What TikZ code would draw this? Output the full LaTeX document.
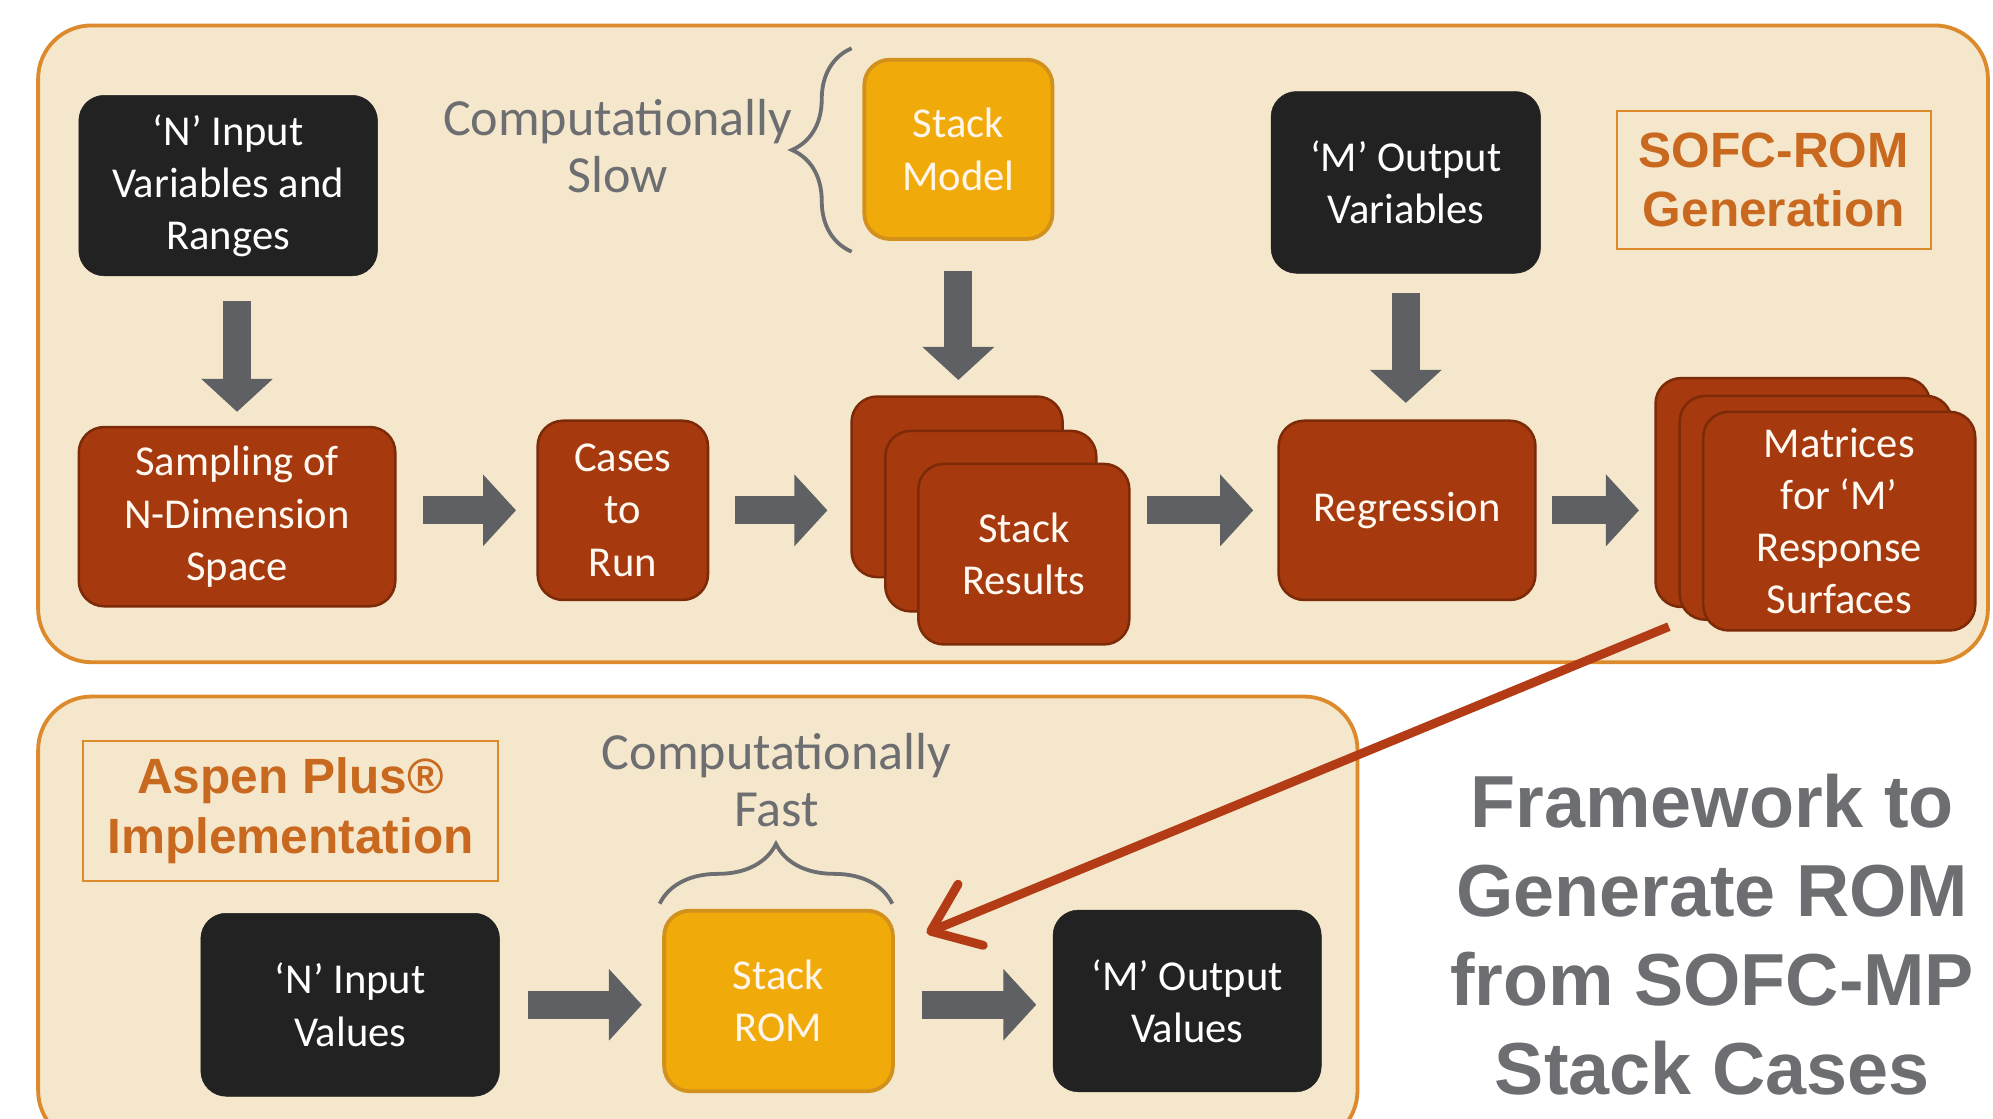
\documentclass[tikz,border=0pt]{standalone}
\usepackage{fontspec}
\setmainfont{Carlito}
\newfontfamily\headfont{Liberation Sans}
\usetikzlibrary{arrows.meta,decorations.pathreplacing}
\definecolor{panelfill}{HTML}{F4E7CB}
\definecolor{panelline}{HTML}{DC8A2C}
\definecolor{boxblack}{HTML}{222222}
\definecolor{rust}{HTML}{A63A0E}
\definecolor{rustdark}{HTML}{7C2A08}
\definecolor{gold}{HTML}{F0AA0A}
\definecolor{golddark}{HTML}{D2901C}
\definecolor{arrowgray}{HTML}{5E6064}
\definecolor{textgray}{HTML}{6D6E71}
\definecolor{orangetext}{HTML}{C9691F}
\definecolor{redarrow}{HTML}{B33C16}
\tikzset{
  panel/.style={fill=panelfill, draw=panelline, line width=3pt, rounded corners=42pt},
  basebox/.style={rectangle, rounded corners=20pt, inner sep=0pt, align=center,
    font=\fontsize{33.5pt}{41pt}\selectfont},
  blackbox/.style={basebox, fill=boxblack, draw=boxblack, text=white},
  rustbox/.style={basebox, fill=rust, draw=rustdark, line width=2pt, text=white!95!orange},
  goldbox/.style={basebox, fill=gold, draw=golddark, line width=3pt, text=white!92!orange},
  titlebox/.style={rectangle, draw=panelline, line width=1.5pt, inner sep=0pt, align=center,
    text=orangetext, font=\headfont\bfseries\fontsize{39pt}{47pt}\selectfont},
  graytext/.style={align=center, text=textgray, font=\fontsize{41pt}{45pt}\selectfont},
  blockarrow/.style={draw=arrowgray, line width=22pt, -{Triangle[length=26pt,width=55pt]}},
  bracestyle/.style={draw=textgray, line width=3pt, decorate, decoration={brace, amplitude=47pt}},
  bigarrow/.style={draw=redarrow, line width=7pt, -{Straight Barb[length=34pt,width=52pt,round]}}
}
\begin{document}
\begin{tikzpicture}[x=1pt,y=-1pt]
\useasboundingbox (0,0) rectangle (1568,880);
\clip (0,0) rectangle (1568,880);
\fill[white] (0,0) rectangle (1568,880);

% panels
\draw[panel] (30,20) rectangle (1564,521);
\draw[panel] (30,548) rectangle (1068,900);

% top panel nodes
\node[blackbox, minimum width=235pt, minimum height=142pt] (nin) at (179.5,146)
  {‘N’ Input\\Variables and\\Ranges};
\node[graytext] (slow) at (486,115) {Computationally\\Slow};
\node[goldbox, minimum width=148pt, minimum height=141pt] (model) at (754,117.5)
  {Stack\\Model};
\node[blackbox, minimum width=212pt, minimum height=143pt] (mout) at (1106,143.5)
  {‘M’ Output\\Variables};
\node[titlebox, minimum width=247pt, minimum height=109pt] (sofc) at (1395.5,141.5)
  {SOFC-ROM\\Generation};

\node[rustbox, minimum width=249pt, minimum height=141pt] (samp) at (186.5,406.5)
  {Sampling of\\N-Dimension\\Space};
\node[rustbox, minimum width=134pt, minimum height=141pt] (cases) at (490,401.5)
  {Cases\\to\\Run};
\node[rustbox, minimum width=166pt, minimum height=142pt] (sr1) at (753,383) {};
\node[rustbox, minimum width=166pt, minimum height=142pt] (sr2) at (779.5,410) {};
\node[rustbox, minimum width=166pt, minimum height=142pt] (sr3) at (805.5,436)
  {Stack\\Results};
\node[rustbox, minimum width=202pt, minimum height=141pt] (reg) at (1107,401.5)
  {Regression};
\node[rustbox, minimum width=216pt, minimum height=180pt] (mat1) at (1410.5,387.5) {};
\node[rustbox, minimum width=214pt, minimum height=176pt] (mat2) at (1428.5,399.5) {};
\node[rustbox, minimum width=214pt, minimum height=172pt] (mat3) at (1447,410)
  {Matrices\\for ‘M’\\Response\\Surfaces};

% top arrows
\draw[blockarrow, shorten <=20pt, shorten >=11pt] (samp.north |- nin.south) -- (samp.north);
\draw[blockarrow, shorten <=24pt, shorten >=12pt] (model.south) -- (model.south |- sr1.north);
\draw[blockarrow, shorten <=15pt, shorten >=13pt] (mout.south) -- (mout.south |- reg.north);
\draw[blockarrow, shorten <=21pt, shorten >=16pt] (samp.east |- cases.west) -- (cases.west);
\draw[blockarrow, shorten <=20pt, shorten >=18pt] (cases.east) -- (cases.east -| sr1.west);
\draw[blockarrow, shorten <=13pt, shorten >=19pt] (sr3.east |- reg.west) -- (reg.west);
\draw[blockarrow, shorten <=12pt, shorten >=12pt] (reg.east) -- (reg.east -| mat1.west);

% braces
\draw[bracestyle] (670,198) -- (670,38);
\draw[bracestyle] (519,711) -- (702,711);

% bottom panel nodes
\node[titlebox, minimum width=327pt, minimum height=110pt] (aspen) at (228.5,638)
  {Aspen Plus®\\Implementation};
\node[graytext] (fast) at (611,614) {Computationally\\Fast};
\node[blackbox, minimum width=235pt, minimum height=144pt] (nv) at (275.5,790.5)
  {‘N’ Input\\Values};
\node[goldbox, minimum width=180pt, minimum height=142pt] (rom) at (612.5,787.5)
  {Stack\\ROM};
\node[blackbox, minimum width=211pt, minimum height=143pt] (mv) at (934,787.5)
  {‘M’ Output\\Values};

\draw[blockarrow, shorten <=22pt, shorten >=16pt] (nv.east) -- (nv.east -| rom.west);
\draw[blockarrow, shorten <=21pt, shorten >=13pt] (rom.east |- nv.east) -- (nv.east -| mv.west);

% big red arrow
\coordinate (redstart) at (1313,493);
\coordinate (redend) at ([shift={(25pt,-19pt)}]rom.north east);
\draw[bigarrow] (redstart) -- (redend);

% title
\node[align=center, text=textgray, font=\headfont\bfseries\fontsize{58pt}{70pt}\selectfont]
  (title) at (1347,735) {Framework to\\Generate ROM\\from SOFC-MP\\Stack Cases};
\end{tikzpicture}
\end{document}
